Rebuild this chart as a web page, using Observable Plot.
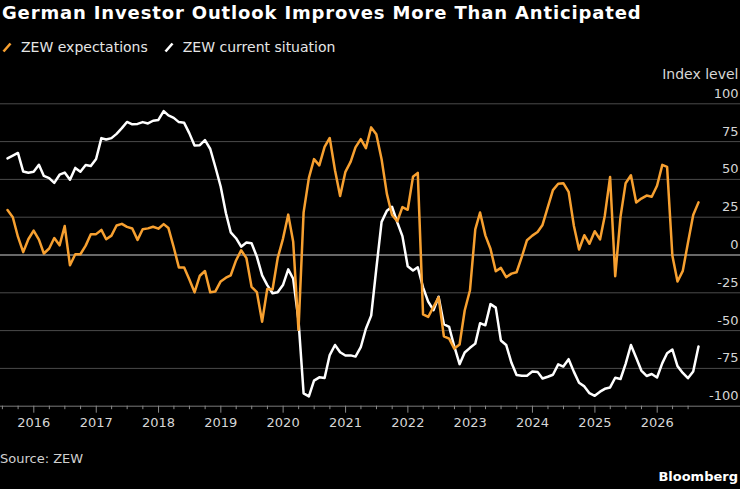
<!DOCTYPE html>
<html>
<head>
<meta charset="utf-8">
<script src="https://cdn.jsdelivr.net/npm/d3@7"></script>
<script src="https://cdn.jsdelivr.net/npm/@observablehq/plot@0.6"></script>
<style>
  html, body { margin: 0; padding: 0; background: #000; }
  body { width: 740px; height: 489px; overflow: hidden; position: relative; font-family: "DejaVu Sans", sans-serif; color: #fff; }
  #title { position: absolute; left: 2px; top: 3px; font-weight: bold; font-size: 18px; letter-spacing: 0.85px; line-height: 20px; white-space: nowrap; color: #fff; }
  #legend { position: absolute; left: 0; top: 39px; font-size: 14px; line-height: 16px; white-space: nowrap; color: #e6e6e6; }
  #legend span.item { display: inline-flex; align-items: center; margin-right: 14px; }
  #legend svg { margin-right: 9px; margin-left: 2px; }
  #chart { position: absolute; left: 0; top: 60px; }
  #source { position: absolute; left: 0; top: 451px; font-size: 13px; line-height: 16px; color: #d0d0d0; }
  #brand { position: absolute; right: 2px; top: 469px; font-size: 13px; font-weight: bold; line-height: 16px; color: #fff; }
</style>
</head>
<body>
<div id="title">German Investor Outlook Improves More Than Anticipated</div>
<div id="legend"></div>
<div id="chart"></div>
<div id="source">Source: ZEW</div>
<div id="brand">Bloomberg</div>
<script>
// Monthly readings, July 2015 through August 2026
const startYear = 2015, startMonth = 7;
const seriesNames = ["ZEW expectations", "ZEW current situation"];
const seriesColors = ["#f7a030", "#ffffff"];

const expectations = [
  29.7, 25.0, 12.1, 1.9, 10.4, 16.1,
  10.2, 1.0, 4.3, 11.2, 6.4, 19.2, -6.8, 0.5, 0.5, 6.2, 13.8, 13.8,
  16.6, 10.4, 12.8, 19.5, 20.6, 18.6, 17.5, 10.0, 17.0, 17.6, 18.7, 17.4,
  20.4, 17.8, 5.1, -8.2, -8.2, -16.1, -24.7, -13.7, -10.6, -24.7, -24.1, -17.5,
  -15.0, -13.4, -3.6, 3.1, -2.1, -21.1, -24.5, -44.1, -22.5, -22.8, -2.1, 10.7,
  26.7, 8.7, -49.5, 28.2, 51.0, 63.4, 59.3, 71.5, 77.4, 56.1, 39.0, 55.0,
  61.8, 71.2, 76.6, 70.7, 84.4, 79.8, 63.3, 40.4, 26.5, 22.3, 31.7, 29.9,
  51.7, 54.3, -39.3, -41.0, -34.3, -28.0, -53.8, -55.3, -61.9, -59.2, -36.7, -23.3,
  16.9, 28.1, 13.0, 4.1, -10.7, -8.5, -14.7, -12.3, -11.4, -1.1, 9.8, 12.8,
  15.2, 19.9, 31.7, 42.9, 47.1, 47.5, 41.8, 19.2, 3.6, 13.1, 7.4, 15.7,
  10.3, 26.0, 51.6, -14.0, 25.2, 47.5, 52.7, 34.7, 37.3, 39.3, 38.5, 45.8,
  59.6, 58.3, -0.5, -17.5, -10.5, 8.0, 26.5, 34.8
];

const currentSituation = [
  63.9, 65.7, 67.5, 55.2, 54.4, 55.0,
  59.7, 52.3, 50.9, 47.7, 53.1, 54.5, 49.8, 57.6, 55.1, 59.5, 58.8, 63.5,
  77.3, 76.4, 77.3, 80.1, 83.9, 88.0, 86.4, 86.7, 87.9, 87.0, 88.8, 89.3,
  95.2, 92.3, 90.7, 87.9, 87.4, 80.6, 72.4, 72.6, 76.0, 70.1, 58.2, 45.3,
  27.6, 15.0, 11.1, 5.5, 8.2, 7.8, -1.1, -13.5, -19.9, -25.3, -24.7, -19.9,
  -9.5, -15.7, -43.1, -91.5, -93.5, -83.1, -80.9, -81.3, -66.2, -59.5, -64.3, -66.5,
  -66.4, -67.2, -61.0, -48.8, -40.1, -9.1, 21.9, 29.3, 31.9, 21.6, 12.5, -7.4,
  -10.2, -8.1, -21.4, -30.8, -36.5, -27.6, -45.8, -47.6, -60.5, -72.2, -64.5, -61.4,
  -58.6, -45.1, -46.5, -32.5, -34.8, -56.5, -59.5, -71.3, -79.4, -79.9, -79.8, -77.1,
  -77.3, -81.7, -80.5, -79.2, -72.3, -73.8, -68.9, -77.3, -84.5, -86.9, -91.4, -93.1,
  -90.4, -88.5, -87.6, -81.2, -82.0, -72.0, -59.5, -68.0, -76.4, -80.0, -78.7, -81.0,
  -71.5, -65.0, -62.5, -73.5, -78.0, -81.5, -77.0, -60.5
];

const yTicks = [100, 75, 50, 25, 0, -25, -50, -75, -100];
const yearLabels = [2016, 2017, 2018, 2019, 2020, 2021, 2022, 2023, 2024, 2025, 2026];
const yLabel = "Index level";

// Build table: each reading dated at month end
const data = expectations.map((v, i) => ({
  date: new Date(Date.UTC(startYear, startMonth - 1 + i + 1, 0)),
  exp: v,
  cur: currentSituation[i]
}));

// x scale domain so that Jan 2016 and Jan 2026 fall where the reference puts them
const W = 740;
const t2016 = Date.UTC(2016, 0, 1), t2026 = Date.UTC(2026, 0, 1);
const x2016 = 33.3, x2026 = 656.7;
const pxPerMs = (x2026 - x2016) / (t2026 - t2016);
const domainStart = new Date(t2016 - x2016 / pxPerMs);
const domainEnd = new Date(t2016 + (W - x2016) / pxPerMs);

const yearTicks = yearLabels.map(y => new Date(Date.UTC(y, 0, 1)));
const quarterTicks = d3.utcMonth.every(3).range(new Date(Date.UTC(2015, 6, 1)), new Date(Date.UTC(2026, 7, 1)))
  .filter(d => d.getUTCMonth() !== 0);

// Legend
const legend = document.getElementById("legend");
seriesNames.forEach((name, i) => {
  const span = document.createElement("span");
  span.className = "item";
  span.innerHTML = `<svg width="10" height="11" viewBox="0 0 10 11"><line x1="1.5" y1="9.5" x2="8.5" y2="1.5" stroke="${seriesColors[i]}" stroke-width="2.6" stroke-linecap="butt"/></svg>${name}`;
  legend.appendChild(span);
});

const chart = Plot.plot({
  width: W,
  height: 380,
  marginTop: 43.3,
  marginBottom: 34.3,
  marginLeft: 0,
  marginRight: 0,
  style: { background: "transparent", color: "#d6d6d6", fontFamily: "DejaVu Sans, sans-serif", fontSize: "13px" },
  x: { type: "utc", domain: [domainStart, domainEnd], label: null },
  y: { domain: [-100, 100], axis: null, label: null },
  marks: [
    Plot.ruleY(yTicks.filter(v => v !== 0 && v !== -100), { stroke: "#4a4a4a", strokeWidth: 1 }),
    Plot.ruleY([0], { stroke: "#d0d0d0", strokeWidth: 1.2 }),
    Plot.ruleY([-100], { stroke: "#7a7a7a", strokeWidth: 1 }),
    Plot.axisX(quarterTicks, { tickSize: 3.5, tickFormat: () => "", stroke: "#8a8a8a", label: null }),
    Plot.axisX(yearTicks, { tickSize: 7, tickPadding: 5, tickFormat: "%Y", stroke: "#8a8a8a", fill: "#d6d6d6", fontSize: 13, label: null }),
    Plot.text(yTicks, { y: d => d, text: d => String(d), frameAnchor: "right", textAnchor: "end", lineAnchor: "bottom", dx: -2, dy: -6, fill: "#d6d6d6", fontSize: 13 }),
    Plot.text([yLabel], { text: d => d, frameAnchor: "top-right", textAnchor: "end", lineAnchor: "bottom", dx: -2, dy: -25, fill: "#d6d6d6", fontSize: 14 }),
    Plot.line(data, { x: "date", y: "cur", stroke: seriesColors[1], strokeWidth: 2.5, strokeLinejoin: "round" }),
    Plot.line(data, { x: "date", y: "exp", stroke: seriesColors[0], strokeWidth: 2.5, strokeLinejoin: "round" })
  ]
});
document.getElementById("chart").appendChild(chart);
</script>
</body>
</html>
